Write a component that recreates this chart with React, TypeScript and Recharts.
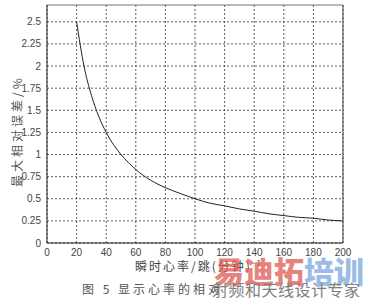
import { LineChart, Line, XAxis, YAxis, CartesianGrid, ReferenceLine } from 'recharts'

// heart rate (beats/min) and max relative error (%)
const heartRate = [20, 25, 30, 35, 40, 45, 50, 55, 60, 70, 80, 90, 100, 110, 120, 130, 140, 150, 160, 170, 180, 190, 200]
const maxError = [2.5, 2.0, 1.67, 1.43, 1.25, 1.11, 1.0, 0.91, 0.83, 0.71, 0.625, 0.56, 0.5, 0.45, 0.42, 0.385, 0.36, 0.33, 0.31, 0.29, 0.28, 0.26, 0.25]

const xTicks = [0, 20, 40, 60, 80, 100, 120, 140, 160, 180, 200]
const yTicks = [0, 0.25, 0.5, 0.75, 1, 1.25, 1.5, 1.75, 2, 2.25, 2.5]

const yLabel = '最大相对误差/%'
const xLabel = '瞬时心率/跳(分钟)'
const caption = '图 5   显示心率的相对'
const watermarkRed = '易迪拓'
const watermarkBlue = '培训'
const watermarkSub = '射频和天线设计专家'

const data = heartRate.map((hr, i) => ({ hr, err: maxError[i] }))

const tickStyle = { fontSize: 10, fill: '#444', fontFamily: 'Liberation Sans, Arial, sans-serif' }
const cjk = '"Noto Sans CJK SC", sans-serif'

export default function App() {
  return (
    <div style={{ position: 'absolute', left: 0, top: 0, width: 367, height: 307, background: '#fff', overflow: 'hidden' }}>
      <LineChart width={367} height={307} data={data} margin={{ top: 5, right: 24, left: 0, bottom: 44 }}>
        <CartesianGrid stroke="#333" strokeDasharray="2 2" strokeWidth={0.8} horizontalValues={yTicks} verticalValues={xTicks} />
        <XAxis
          dataKey="hr"
          type="number"
          domain={[0, 200]}
          ticks={xTicks}
          tick={tickStyle}
          tickSize={4}
          tickLine={false}
          axisLine={{ stroke: '#222' }}
          height={20}
        />
        <YAxis
          type="number"
          domain={[0, 2.69]}
          ticks={yTicks}
          tick={tickStyle}
          tickLine={false}
          tickSize={4}
          axisLine={{ stroke: '#222' }}
          width={47}
          interval={0}
        />
        <ReferenceLine x={200} stroke="#444" strokeWidth={1} ifOverflow="extendDomain" />
        <ReferenceLine y={2.69} stroke="#777" strokeWidth={1} />
        <Line type="monotone" dataKey="err" stroke="#222" strokeWidth={1} dot={false} isAnimationActive={false} />
      </LineChart>
      <div
        style={{
          position: 'absolute', left: 16, top: 131, transform: 'translate(-50%, -50%) rotate(-90deg)',
          whiteSpace: 'nowrap', fontFamily: cjk, fontSize: 12, letterSpacing: 3, color: '#555',
        }}
      >
        {yLabel}
      </div>
      <div
        style={{
          position: 'absolute', left: 135, top: 257, whiteSpace: 'nowrap', fontFamily: cjk,
          fontSize: 12, letterSpacing: 2, color: '#444',
        }}
      >
        {xLabel}<sup style={{ fontSize: 8 }}>-1</sup>
      </div>
      <div
        style={{
          position: 'absolute', left: 82, top: 280, whiteSpace: 'nowrap', fontFamily: cjk,
          fontSize: 12, letterSpacing: 3, color: '#555',
        }}
      >
        {caption}
      </div>
      <div
        style={{
          position: 'absolute', left: 214, top: 248, whiteSpace: 'nowrap', fontFamily: cjk,
          fontSize: 30, fontWeight: 900, letterSpacing: 0, opacity: 0.75,
        }}
      >
        <span style={{ color: '#de5a55' }}>{watermarkRed}</span>
        <span style={{ color: '#7aa6dc' }}>{watermarkBlue}</span>
      </div>
      <div
        style={{
          position: 'absolute', left: 212, top: 277, whiteSpace: 'nowrap', fontFamily: cjk,
          fontSize: 16, color: '#808080', letterSpacing: 0.5,
        }}
      >
        {watermarkSub}
      </div>
    </div>
  )
}
